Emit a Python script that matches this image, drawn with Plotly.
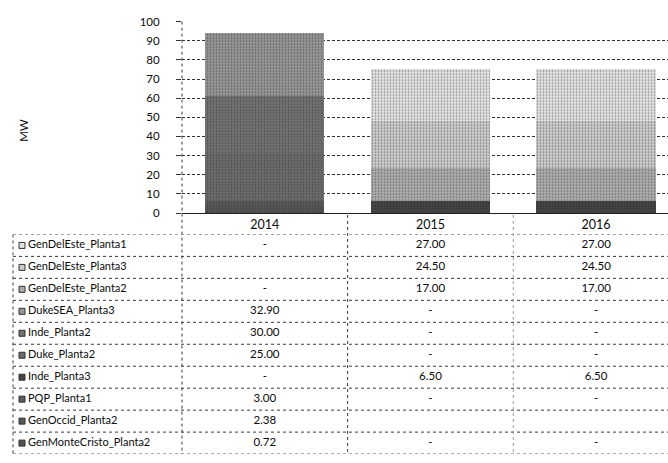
import plotly.graph_objects as go

# ---- data -------------------------------------------------------------
years = ["2014", "2015", "2016"]

# one list per plant: MW for 2014, 2015, 2016
# 0 is shown as "-" in the table, None leaves the cell empty
GenDelEste_Planta1 = [0, 27.00, 27.00]
GenDelEste_Planta3 = [None, 24.50, 24.50]
GenDelEste_Planta2 = [0, 17.00, 17.00]
DukeSEA_Planta3 = [32.90, 0, 0]
Inde_Planta2 = [30.00, 0, 0]
Duke_Planta2 = [25.00, 0, 0]
Inde_Planta3 = [0, 6.50, 6.50]
PQP_Planta1 = [3.00, 0, 0]
GenOccid_Planta2 = [2.38, None, None]
GenMonteCristo_Planta2 = [0.72, 0, 0]

# table rows, top to bottom (stack is built bottom-up in reverse)
series_names = [
    "GenDelEste_Planta1", "GenDelEste_Planta3", "GenDelEste_Planta2",
    "DukeSEA_Planta3", "Inde_Planta2", "Duke_Planta2", "Inde_Planta3",
    "PQP_Planta1", "GenOccid_Planta2", "GenMonteCristo_Planta2",
]
series_values = [
    GenDelEste_Planta1, GenDelEste_Planta3, GenDelEste_Planta2,
    DukeSEA_Planta3, Inde_Planta2, Duke_Planta2, Inde_Planta3,
    PQP_Planta1, GenOccid_Planta2, GenMonteCristo_Planta2,
]

y_ticks = [0, 10, 20, 30, 40, 50, 60, 70, 80, 90, 100]

# ---- styling ----------------------------------------------------------
fill = {
    "GenDelEste_Planta1": "#e2e2e2",
    "GenDelEste_Planta3": "#cbcbcb",
    "GenDelEste_Planta2": "#acacac",
    "DukeSEA_Planta3": "#969696",
    "Inde_Planta2": "#727272",
    "Duke_Planta2": "#6c6c6c",
    "Inde_Planta3": "#444444",
    "PQP_Planta1": "#5a5a5a",
    "GenOccid_Planta2": "#555555",
    "GenMonteCristo_Planta2": "#505050",
}
FONT = "Lato"
TEXT = "#0a0a0a"
W, H = 668, 463


def px_x(p):
    return p / W


def px_y(p):
    return (H - p) / H


def cell_text(v):
    if v is None:
        return ""
    if v == 0:
        return "-"
    return f"{v:.2f}"


fig = go.Figure()

# stacked bars: last table row sits at the bottom of the stack
for name, vals in reversed(list(zip(series_names, series_values))):
    fig.add_trace(go.Bar(
        x=years, y=[v if v else None for v in vals], name=name,
        marker=dict(color=fill[name], line=dict(width=0),
                    pattern=dict(shape=".", fgcolor="#222222", bgcolor=fill[name],
                                 size=3, solidity=0.25)),
        xaxis="x", yaxis="y", showlegend=False,
    ))

# data table values
tx, ty, tt = [], [], []
for i, vals in enumerate(series_values):
    for yr, v in zip(years, vals):
        tx.append(yr)
        ty.append(i)
        tt.append(cell_text(v))
fig.add_trace(go.Scatter(
    x=tx, y=ty, text=tt, mode="text", xaxis="x", yaxis="y2",
    textfont=dict(family=FONT, size=11.5, color=TEXT),
    showlegend=False, hoverinfo="skip",
))

# row legend keys and series names
rows = list(range(len(series_names)))
fig.add_trace(go.Scatter(
    x=[22] * len(rows), y=rows, mode="markers", xaxis="x3", yaxis="y2",
    marker=dict(symbol="square", size=6, color=[fill[n] for n in series_names],
                line=dict(width=1, color="#333333")),
    showlegend=False, hoverinfo="skip",
))
fig.add_trace(go.Scatter(
    x=[28] * len(rows), y=rows, text=series_names, mode="text",
    textposition="middle right", xaxis="x3", yaxis="y2",
    textfont=dict(family=FONT, size=11, color=TEXT),
    showlegend=False, hoverinfo="skip",
))

# ---- table rules ------------------------------------------------------
line_dark = dict(color="#3a3a3a", width=1, dash="dot")
line_light = dict(color="#9a9a9a", width=1, dash="dot")
shapes = []
for k in range(len(series_names) + 1):
    shapes.append(dict(type="line", xref="paper", yref="y2",
                       x0=px_x(13), x1=1, y0=k - 0.5, y1=k - 0.5, line=line_dark))
# left border of the table
shapes.append(dict(type="line", xref="paper", yref="y2",
                   x0=px_x(13), x1=px_x(13), y0=-0.5, y1=len(series_names) - 0.5,
                   line=line_dark))
# value axis line continuing down through the table
shapes.append(dict(type="line", xref="paper", yref="paper",
                   x0=px_x(182), x1=px_x(182), y0=px_y(15), y1=px_y(460),
                   line=line_dark))
# year column separators
shapes.append(dict(type="line", xref="x", yref="paper", x0=0.5, x1=0.5,
                   y0=px_y(214), y1=px_y(460), line=line_dark))
shapes.append(dict(type="line", xref="x", yref="paper", x0=1.5, x1=1.5,
                   y0=px_y(214), y1=px_y(460), line=line_light))

fig.update_layout(
    width=W, height=H,
    margin=dict(l=0, r=0, t=0, b=0),
    paper_bgcolor="white", plot_bgcolor="white",
    barmode="stack", bargap=0.28,
    font=dict(family=FONT, size=11.5, color=TEXT),
    shapes=shapes,
    annotations=[dict(text="MW", xref="paper", yref="paper",
                      x=px_x(15), y=px_y(113), showarrow=False, textangle=-90,
                      font=dict(family=FONT, size=11.5, color=TEXT))],
    xaxis=dict(domain=[px_x(182), 1], range=[-0.5, 2.434], type="category",
               categoryorder="array", categoryarray=years,
               showgrid=False, zeroline=False, showline=True, linecolor="#222222",
               linewidth=1, ticks="", tickfont=dict(family=FONT, size=12.5),
               anchor="y"),
    yaxis=dict(domain=[px_y(212), px_y(15)], range=[0, 100],
               tickvals=y_ticks, showgrid=True, gridcolor="#333333",
               griddash="3px,2px", gridwidth=1, zeroline=False, showline=False,
               ticks="outside", ticklen=5, tickcolor="#333333",
               ticklabelstandoff=14, tickfont=dict(family=FONT, size=11.5),
               anchor="x"),
    yaxis2=dict(domain=[px_y(460), px_y(234)], range=[len(series_names) - 0.5, -0.5],
                visible=False, anchor="x"),
    xaxis3=dict(domain=[0, px_x(182)], range=[0, 182], visible=False, anchor="y2"),
)

fig.write_html("out.html")
